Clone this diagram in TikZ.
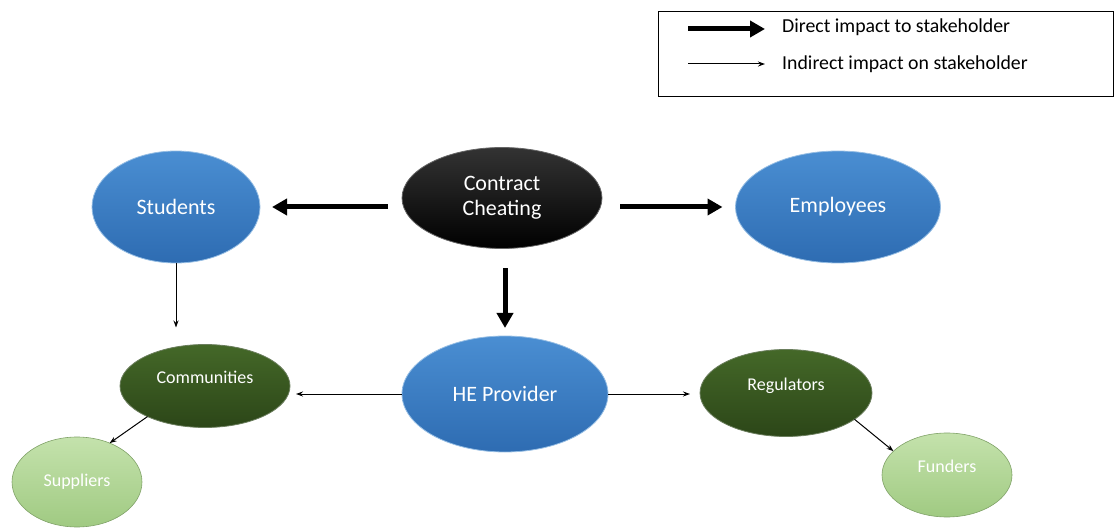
\documentclass[tikz,border=0pt]{standalone}
\usepackage{fontspec}
\setmainfont{Carlito}
\usepackage{tikz}
\usetikzlibrary{shapes.geometric, arrows, arrows.meta, positioning}
\definecolor{blueTop}{RGB}{74,142,210}
\definecolor{blueBot}{RGB}{46,108,178}
\definecolor{blueRim}{RGB}{150,190,228}
\definecolor{darkTop}{RGB}{68,104,40}
\definecolor{darkBot}{RGB}{44,70,24}
\definecolor{lightTop}{RGB}{196,226,172}
\definecolor{lightBot}{RGB}{160,202,130}
\tikzstyle{stakeholder} = [ellipse, inner sep=0pt, outer sep=0pt, text=white, align=center, top color=blueTop, bottom color=blueBot, draw=blueRim, line width=0.8pt, font=\fontsize{22}{25}\selectfont]
\tikzstyle{cause} = [stakeholder, top color=black!80, bottom color=black, draw=black!60]
\tikzstyle{secondary} = [ellipse, inner sep=0pt, outer sep=0pt, text=white, top color=darkTop, bottom color=darkBot, draw=darkBot!70, line width=0.8pt, font=\fontsize{18}{21}\selectfont, text depth=18pt]
\tikzstyle{tertiary} = [ellipse, inner sep=0pt, outer sep=0pt, text=white, top color=lightTop, bottom color=lightBot, draw=lightBot!80!black, line width=0.6pt, font=\fontsize{18}{21}\selectfont]
\tikzstyle{legendtext} = [anchor=base west, inner sep=0pt, font=\fontsize{19.8}{22}\selectfont]
\tikzstyle{direct} = [line width=5pt, -{Triangle[length=15pt,width=16pt]}]
\tikzstyle{indirect} = [line width=1pt, -{Stealth[length=7pt,width=5pt]}]
\begin{document}
\begin{tikzpicture}[x=1pt, y=1pt, node distance=330pt]
        \useasboundingbox (0,0) rectangle (1114,-529);

        % legend
        \node (legend) [draw, line width=1pt, minimum width=455pt, minimum height=85pt] at (885.5,-54.5) {};
        \coordinate (directstart) at (688,-29);
        \coordinate (directend) at (765,-29);
        \coordinate (indirectstart) at (688,-64);
        \coordinate (indirectend) at (765,-64);
        \node (directlabel) [legendtext] at (782,-33) {Direct impact to stakeholder};
        \node (indirectlabel) [legendtext] at (782,-70) {Indirect impact on stakeholder};
        \draw [direct] (directstart) -- (directend);
        \draw [indirect] (indirectstart) -- (indirectend);

        \node (cheating) [cause, minimum width=200pt, minimum height=101pt] at (502,-198) {Contract\\Cheating};
        \node (students) [stakeholder, minimum width=168pt, minimum height=112pt, left of=cheating, xshift=4pt, yshift=-9pt] {Students};
        \node (employees) [stakeholder, minimum width=205pt, minimum height=112pt, right of=cheating, xshift=6pt, yshift=-9pt] {Employees};
        \node (he) [stakeholder, minimum width=206pt, minimum height=116pt, node distance=196pt, below of=cheating, xshift=3pt] {HE Provider};
        \node (communities) [secondary, minimum width=170pt, minimum height=83pt, node distance=300pt, left of=he, yshift=8pt] {Communities};
        \node (regulators) [secondary, minimum width=172pt, minimum height=87pt, node distance=281pt, right of=he, yshift=1pt] {Regulators};
        \node (suppliers) [tertiary, minimum width=130pt, minimum height=90pt, node distance=96pt, below of=communities, xshift=-128pt] {Suppliers};
        \node (funders) [tertiary, minimum width=130pt, minimum height=84pt, text depth=18pt, node distance=82pt, below of=regulators, xshift=161pt] {Funders};

        \draw [direct, shorten <=14pt, shorten >=12pt] (cheating.west |- students.east) -- (students.east);
        \draw [direct, shorten <=18pt, shorten >=13pt] (cheating.east |- employees.west) -- (employees.west);
        \draw [direct, shorten <=20pt, shorten >=8pt] (cheating.south -| he.north) -- (he.north);
        \draw [indirect, shorten >=17pt] (students.south) -- (students.south |- communities.north);
        \draw [indirect, shorten >=6pt] (he.west) -- (he.west -| communities.east);
        \draw [indirect, shorten >=10pt] (he.east) -- (he.east -| regulators.west);
        \draw [indirect] (communities.208) -- (suppliers.50);
        \draw [indirect] (regulators.-21) -- (funders.156);

        \end{tikzpicture}
\end{document}
